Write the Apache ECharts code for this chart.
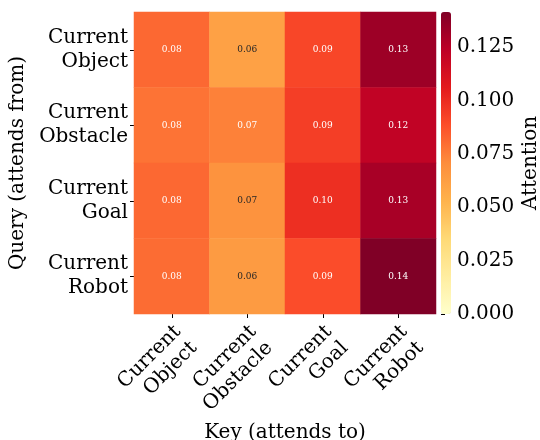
<!DOCTYPE html>
<html>
<head>
<meta charset="utf-8">
<script src="https://cdn.jsdelivr.net/npm/echarts@6/dist/echarts.min.js"></script>
<style>
  html, body { margin: 0; padding: 0; background: #fff; }
  #chart { width: 540px; height: 440px; }
</style>
</head>
<body>
<div id="chart"></div>
<script>
// Attention heatmap: rows = query token, columns = key token.
const keys = ['Current\nObject', 'Current\nObstacle', 'Current\nGoal', 'Current\nRobot'];
const queries = ['Current\nObject', 'Current\nObstacle', 'Current\nGoal', 'Current\nRobot'];
const rowObject = [0.081, 0.061, 0.091, 0.133];
const rowObstacle = [0.078, 0.074, 0.094, 0.122];
const rowGoal = [0.081, 0.068, 0.099, 0.130];
const rowRobot = [0.080, 0.064, 0.089, 0.1415];
const attention = [rowObject, rowObstacle, rowGoal, rowRobot];
const colorbarTicks = [0, 0.025, 0.05, 0.075, 0.1, 0.125];

const V_MAX = 0.1415;
const FONT = 'DejaVu Serif';
// matplotlib YlOrRd
const ylOrRd = ['#ffffcc', '#ffeda0', '#fed976', '#feb24c', '#fd8d3c',
  '#fc4e2a', '#e31a1c', '#bd0026', '#800026'];

const data = [];
attention.forEach((row, qi) => {
  row.forEach((v, ki) => {
    data.push({
      value: [ki, qi, v],
      // seaborn switches annotation colour on cell luminance
      label: { color: v < 0.071 ? '#262626' : '#ffffff' },
    });
  });
});

const chart = echarts.init(document.getElementById('chart'));
chart.setOption({
  backgroundColor: '#fff',
  textStyle: { fontFamily: FONT },
  animation: false,
  grid: [
    { left: 134, right: 104, top: 12, bottom: 126, outerBoundsMode: 'none' },
    { left: 441, width: 10, top: 12, bottom: 126, outerBoundsMode: 'none' },
  ],
  xAxis: [
    {
      type: 'category', gridIndex: 0, data: keys,
      name: 'Key (attends to)', nameLocation: 'middle', nameGap: 106,
      nameTextStyle: { fontSize: 20, color: '#000', fontFamily: FONT },
      axisLine: { show: false },
      axisTick: { show: true, alignWithLabel: true, length: 4, lineStyle: { color: '#000' } },
      // matplotlib's ha='right' puts the rotated block lower and to the right
      axisLabel: {
        rotate: 45, fontSize: 20, color: '#000', fontFamily: FONT, lineHeight: 23,
        margin: 37, padding: [0, -20, 0, 0],
      },
      splitLine: { show: false },
    },
    { type: 'value', gridIndex: 1, show: false, min: 0, max: 1 },
  ],
  yAxis: [
    {
      type: 'category', gridIndex: 0, data: queries, inverse: true,
      name: 'Query (attends from)', nameLocation: 'middle', nameGap: 90,
      nameTextStyle: { fontSize: 20, color: '#000', fontFamily: FONT },
      axisLine: { show: false },
      axisTick: { show: true, alignWithLabel: true, length: 4, lineStyle: { color: '#000' } },
      axisLabel: { fontSize: 20, color: '#000', fontFamily: FONT, lineHeight: 24, margin: 6 },
      splitLine: { show: false },
    },
    {
      type: 'value', gridIndex: 1, position: 'right', min: 0, max: V_MAX,
      interval: 0.025,
      name: 'Attention', nameLocation: 'middle', nameGap: 70, nameRotate: 90,
      nameTextStyle: { fontSize: 20, color: '#000', fontFamily: FONT },
      axisLine: { show: false },
      axisTick: { show: true, length: 4, lineStyle: { color: '#000' } },
      axisLabel: {
        fontSize: 20, color: '#000', fontFamily: FONT, margin: 6,
        showMaxLabel: false,
        formatter: (v) => colorbarTicks.some((t) => Math.abs(t - v) < 1e-9) ? v.toFixed(3) : '',
      },
      splitLine: { show: false },
    },
  ],
  visualMap: {
    type: 'continuous', min: 0, max: V_MAX, calculable: false,
    seriesIndex: 0, orient: 'vertical',
    left: 441, top: 12, itemWidth: 10, itemHeight: 302, padding: 0,
    text: null, showLabel: false,
    inRange: { color: ylOrRd },
  },
  series: [
    {
      type: 'heatmap', xAxisIndex: 0, yAxisIndex: 0, data,
      label: {
        show: true, fontSize: 9, fontFamily: FONT,
        formatter: (p) => p.value[2].toFixed(2),
      },
      emphasis: { disabled: true },
    },
  ],
});
</script>
</body>
</html>
